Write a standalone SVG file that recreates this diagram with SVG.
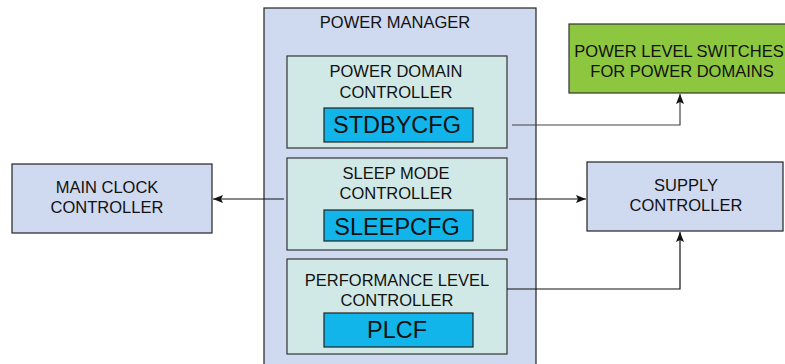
<svg xmlns="http://www.w3.org/2000/svg" width="785" height="364" viewBox="0 0 785 364">
<style>
  text { font-family: "Liberation Sans", Arial, sans-serif; fill: #111; text-anchor: middle; }
  .lbl { font-size: 16.5px; }
  .reg { font-size: 23.5px; }
  .blue { fill: #CFD9EF; stroke: #222; stroke-width: 1.2; }
  .teal { fill: #D0E9E6; stroke: #333; stroke-width: 1.2; }
  .cyan { fill: #12B5EA; stroke: #222; stroke-width: 1.2; }
  .green { fill: #8DC63F; stroke: #333; stroke-width: 1.2; }
  .conn { fill: none; stroke: #111; stroke-width: 1.2; }
  .conn2 { fill: none; stroke: #444; stroke-width: 1.2; }
</style>
<defs>
  <marker id="arr" viewBox="0 0 10 8" refX="10" refY="4" markerWidth="10" markerHeight="8" markerUnits="userSpaceOnUse" orient="auto">
    <path d="M0,0 L10,4 L0,8 L2,4 z" fill="#111"/>
  </marker>
</defs>

<g id="power-manager">
  <rect class="blue" x="264" y="8" width="272" height="370"/>
  <text class="lbl" x="395" y="28">POWER MANAGER</text>
</g>

<g id="power-domain-controller">
  <rect class="teal" x="287" y="56" width="220" height="92"/>
  <text class="lbl" x="396" y="77">POWER DOMAIN</text>
  <text class="lbl" x="396" y="98">CONTROLLER</text>
  <rect class="cyan" x="324" y="108" width="149" height="34"/>
  <text class="reg" x="397" y="133">STDBYCFG</text>
</g>

<g id="sleep-mode-controller">
  <rect class="teal" x="287" y="158" width="220" height="92"/>
  <text class="lbl" x="396" y="179">SLEEP MODE</text>
  <text class="lbl" x="396" y="199">CONTROLLER</text>
  <rect class="cyan" x="324" y="210" width="149" height="31"/>
  <text class="reg" x="397" y="235">SLEEPCFG</text>
</g>

<g id="performance-level-controller">
  <rect class="teal" x="287" y="259" width="220" height="95"/>
  <text class="lbl" x="397" y="285.5">PERFORMANCE LEVEL</text>
  <text class="lbl" x="397" y="305.5">CONTROLLER</text>
  <rect class="cyan" x="324" y="313" width="149" height="34"/>
  <text class="reg" x="397" y="338">PLCF</text>
</g>

<g id="main-clock-controller">
  <rect class="blue" x="12" y="164" width="200" height="69"/>
  <text class="lbl" x="107" y="193">MAIN CLOCK</text>
  <text class="lbl" x="107" y="213">CONTROLLER</text>
</g>

<g id="supply-controller">
  <rect class="blue" x="587" y="162" width="196" height="69"/>
  <text class="lbl" x="686" y="191">SUPPLY</text>
  <text class="lbl" x="686" y="211">CONTROLLER</text>
</g>

<g id="power-level-switches">
  <rect class="green" x="569" y="24" width="230" height="69"/>
  <text class="lbl" x="679" y="57">POWER LEVEL SWITCHES</text>
  <text class="lbl" x="682" y="77">FOR POWER DOMAINS</text>
</g>

<g id="connectors">
  <path class="conn" d="M284,199 H213" marker-end="url(#arr)"/>
  <path class="conn" d="M509,199 H586" marker-end="url(#arr)"/>
  <path class="conn2" d="M512,125 H680 V94" marker-end="url(#arr)"/>
  <path class="conn" d="M507,289 H680 V232" marker-end="url(#arr)"/>
</g>
</svg>
